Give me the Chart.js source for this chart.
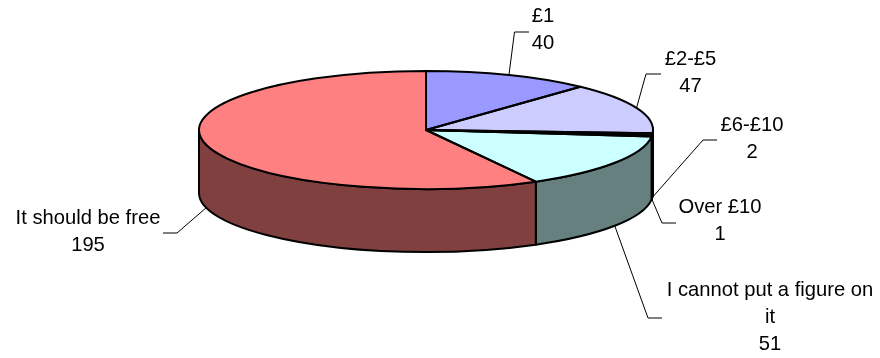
<!DOCTYPE html>
<html>
<head>
<meta charset="utf-8">
<title>Pie</title>
<style>
html, body { margin: 0; padding: 0; background: #fff; }
canvas { display: block; }
</style>
<script src="https://cdn.jsdelivr.net/npm/chart.js@4"></script>
</head>
<body>
<canvas id="pie" width="880" height="358"></canvas>
<script>
// values
const categories = ['£1', '£2-£5', '£6-£10', 'Over £10', 'I cannot put a figure on it', 'It should be free']
const values = [40, 47, 2, 1, 51, 195]
const topColors = ['#9999ff', '#ccccff', '#ffffcc', '#993366', '#ccffff', '#ff8080']
const wallColors = ['#4d4d80', '#666680', '#808066', '#4d1a33', '#668080', '#804040']
const labelLines = [['£1'], ['£2-£5'], ['£6-£10'], ['Over £10'], ['I cannot put a figure on', 'it'], ['It should be free']]

// label placement: text centre, first line y, leader elbow and leader end
const labelBoxes = [
    { x: 543, y: 16, elbow: [514.5, 32], end: [529, 32] },
    { x: 690.5, y: 59, elbow: [646, 74], end: [661, 74] },
    { x: 752, y: 125, elbow: [703, 140], end: [717, 140] },
    { x: 720, y: 207, elbow: [662, 223], end: [676, 223] },
    { x: 770, y: 290, elbow: [648, 318], end: [662, 318] },
    { x: 88, y: 218, elbow: [177, 233], end: [163, 233] }
]

const squash = 0.26
const depth = 63
const lineStep = 27

function wall(ctx, arc, color) {
    let from = Math.max(arc.startAngle, 0)
    let to = Math.min(arc.endAngle, Math.PI)
    if (to <= from) return
    let rx = arc.outerRadius
    let ry = rx * squash
    ctx.beginPath()
    ctx.ellipse(arc.x, arc.y, rx, ry, 0, from, to)
    ctx.ellipse(arc.x, arc.y + depth, rx, ry, 0, to, from, true)
    ctx.closePath()
    ctx.fillStyle = color
    ctx.fill()
    ctx.stroke()
}

const pie3d = {
    id: 'pie3d',
    beforeDatasetsDraw(chart) {
        let ctx = chart.ctx
        ctx.save()
        ctx.strokeStyle = '#000'
        ctx.lineWidth = 2
        ctx.lineJoin = 'round'
        chart.getDatasetMeta(0).data.forEach((arc, i) => wall(ctx, arc, wallColors[i]))
        ctx.restore()
    },
    // the library paints the slices, squashed into an ellipse
    beforeDatasetDraw(chart) {
        let ctx = chart.ctx
        let first = chart.getDatasetMeta(0).data[0]
        ctx.save()
        ctx.translate(first.x, first.y)
        ctx.scale(1, squash)
        ctx.translate(-first.x, -first.y)
    },
    afterDatasetDraw(chart) {
        let ctx = chart.ctx
        ctx.restore()
        ctx.save()
        ctx.strokeStyle = '#000'
        ctx.lineWidth = 2
        ctx.lineJoin = 'round'
        chart.getDatasetMeta(0).data.forEach(arc => {
            let rx = arc.outerRadius
            ctx.beginPath()
            ctx.moveTo(arc.x, arc.y)
            ctx.ellipse(arc.x, arc.y, rx, rx * squash, 0, arc.startAngle, arc.endAngle)
            ctx.closePath()
            ctx.stroke()
        })
        ctx.restore()
    },
    afterDraw(chart) {
        let ctx = chart.ctx
        ctx.save()
        chart.getDatasetMeta(0).data.forEach((arc, i) => {
            let box = labelBoxes[i]
            let mid = (arc.startAngle + arc.endAngle) / 2
            let rx = arc.outerRadius
            let sx = arc.x + rx * Math.cos(mid)
            let sy = arc.y + rx * squash * Math.sin(mid)
            if (Math.sin(mid) > 0) sy += depth

            ctx.beginPath()
            ctx.moveTo(sx, sy)
            ctx.lineTo(box.elbow[0], box.elbow[1])
            ctx.lineTo(box.end[0], box.end[1])
            ctx.strokeStyle = '#000'
            ctx.lineWidth = 1
            ctx.stroke()

            ctx.fillStyle = '#000'
            ctx.font = '20.2px "Liberation Sans"'
            ctx.textAlign = 'center'
            ctx.textBaseline = 'middle'
            let lines = labelLines[i].concat(String(values[i]))
            lines.forEach((line, n) => ctx.fillText(line, box.x, box.y + n * lineStep))
        })
        ctx.restore()
    }
}

let ctx = document.getElementById('pie').getContext('2d')
let pieChart = new Chart(ctx, {
    type: 'pie',
    data: {
        labels: categories,
        datasets: [{
            data: values,
            backgroundColor: topColors,
            borderWidth: 0,
            clip: false
        }]
    },
    options: {
        responsive: false,
        animation: false,
        radius: 227,
        layout: { padding: { right: 28, bottom: 98 } },
        plugins: {
            legend: { display: false },
            tooltip: { enabled: false }
        }
    },
    plugins: [pie3d]
})
</script>
</body>
</html>
